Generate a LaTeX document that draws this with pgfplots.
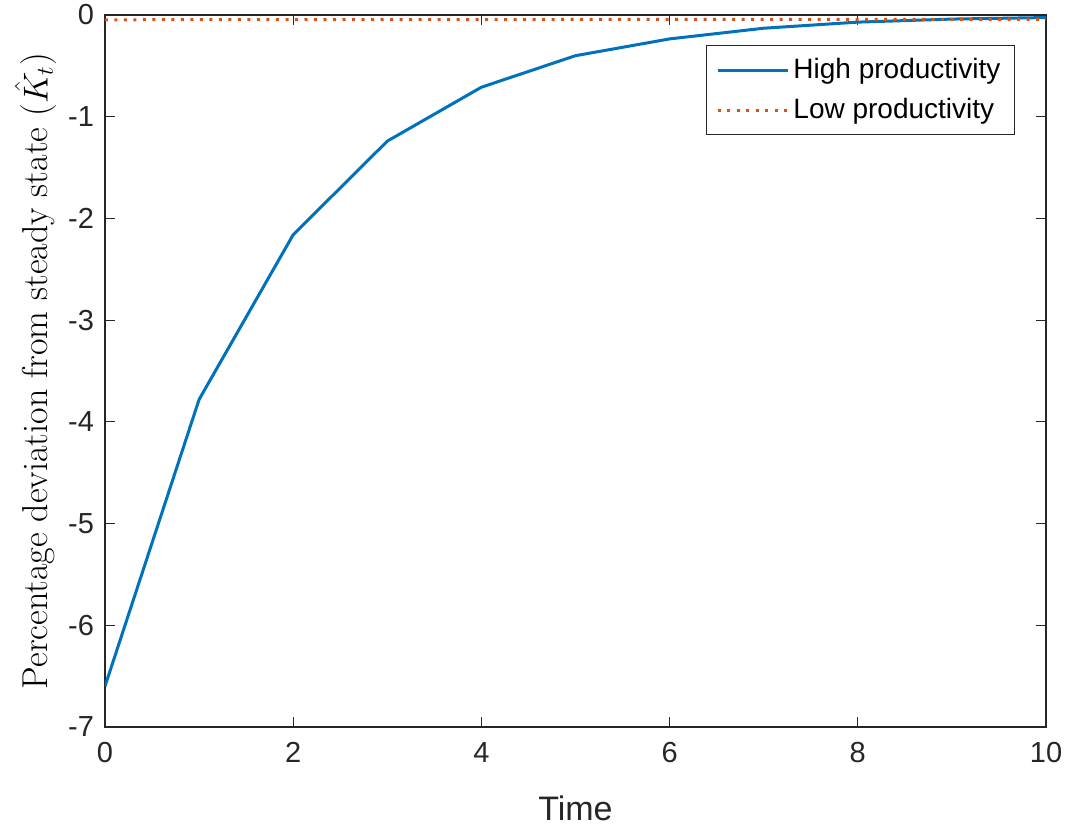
\documentclass[border=0pt]{standalone}
\usepackage{fontspec}
\usepackage{pgfplots}
\pgfplotsset{compat=1.18}
\newfontfamily\arial{Liberation Sans}
\definecolor{mblue}{rgb}{0,0.447,0.741}
\definecolor{morange}{rgb}{0.85,0.325,0.098}
\definecolor{axgray}{rgb}{0.15,0.15,0.15}
\begin{document}
\begin{tikzpicture}
\begin{axis}[
  name=ax,
  at={(0,0)}, anchor=south west,
  scale only axis,
  width=470.5pt, height=356pt,
  xmin=0, xmax=10, ymin=-7, ymax=0,
  xtick={0,2,4,6,8,10},
  xticklabels={0,2,4,6,8,10},
  ytick={-7,-6,-5,-4,-3,-2,-1,0},
  yticklabels={-7,-6,-5,-4,-3,-2,-1,0},
  tick align=inside,
  major tick length=5pt,
  tick style={axgray, line width=0.5pt},
  axis line style={axgray, line width=0.75pt},
  ticklabel style={font=\arial\fontsize{14.5}{17}\selectfont, text=axgray},
  xticklabel style={yshift=-4pt},
  yticklabel style={xshift=-2pt},
  xlabel={\arial Time},
  xlabel style={font=\fontsize{17}{20}\selectfont, text=axgray, at={(axis description cs:0.5,-0.1138)}, anchor=center},
  ylabel={Percentage deviation from steady state ($\hat{K}_t$)},
  ylabel style={font=\fontsize{18}{20}\selectfont, at={(axis description cs:-0.0735,0.5)}, anchor=center, rotate=0},
  legend style={at={(rel axis cs:0.967,0.958)}, anchor=north east, draw=axgray, line width=0.5pt,
    font=\arial\fontsize{14}{17}\selectfont, inner xsep=5pt, inner ysep=4.5pt, row sep=4.5pt},
  legend cell align=left,
  legend image code/.code={\draw[#1] (0pt,0pt) -- (35pt,0pt);},
]
\addplot[mblue, line width=1.5pt] coordinates {
(0,-6.6) (1,-3.78) (2,-2.16) (3,-1.24) (4,-0.71) (5,-0.40) (6,-0.235) (7,-0.13) (8,-0.07) (9,-0.04) (10,-0.025)
};
\addlegendentry{High productivity}
\addplot[morange, line width=1.5pt, dash pattern=on 1.5pt off 3.25pt] coordinates {
(0,-0.047) (1,-0.046) (2,-0.046) (3,-0.045) (4,-0.045) (5,-0.044) (6,-0.044) (7,-0.043) (8,-0.043) (9,-0.042) (10,-0.042)
};
\addlegendentry{Low productivity}
\end{axis}
\pgfresetboundingbox
\path (-52.5pt,-51pt) rectangle (480.5pt,363.5pt);
\end{tikzpicture}
\end{document}
